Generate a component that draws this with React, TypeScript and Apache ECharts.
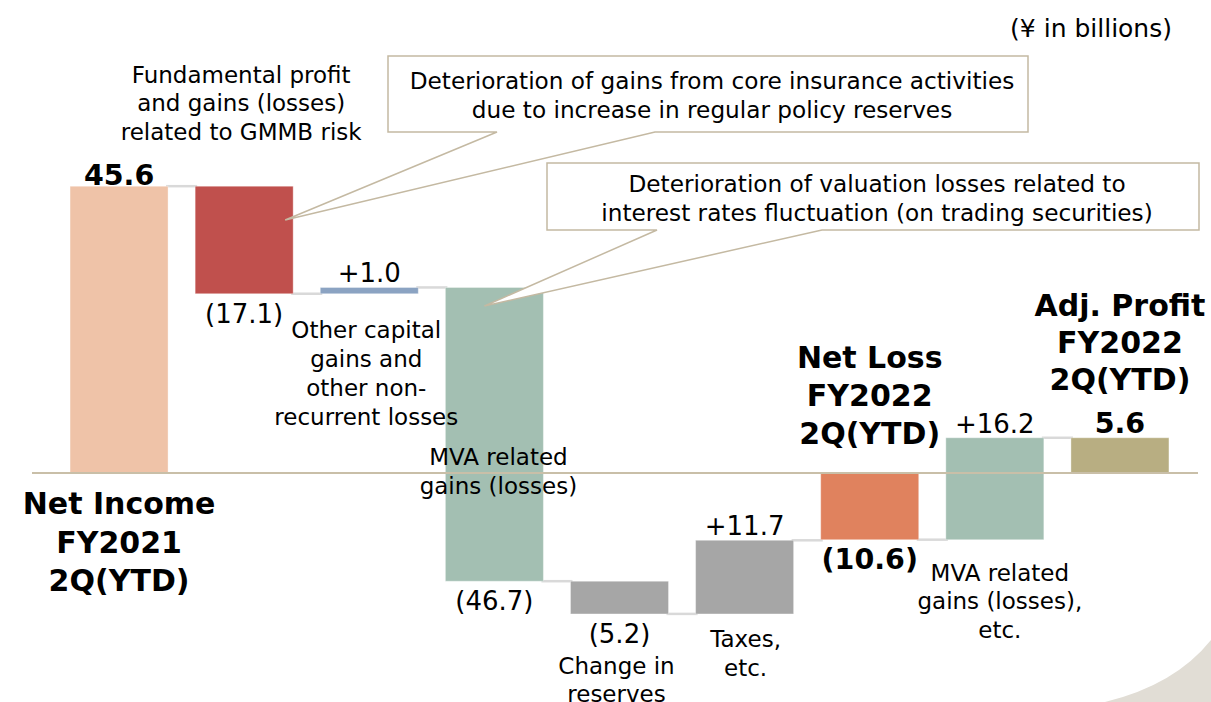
import React, { useEffect, useRef } from 'react';
import * as echarts from 'echarts';

// ---------- data ----------
const categories = [
  'Net Income FY2021 2Q(YTD)',
  'Fundamental profit and gains (losses) related to GMMB risk',
  'Other capital gains and other non-recurrent losses',
  'MVA related gains (losses)',
  'Change in reserves',
  'Taxes, etc.',
  'Net Loss FY2022 2Q(YTD)',
  'MVA related gains (losses), etc.',
  'Adj. Profit FY2022 2Q(YTD)',
];
const values = [45.6, -17.1, 1.0, -46.7, -5.2, 11.7, -10.6, 16.2, 5.6];
const isTotal = [true, false, false, false, false, false, true, false, true];
const valueLabels = ['45.6', '(17.1)', '+1.0', '(46.7)', '(5.2)', '+11.7', '(10.6)', '+16.2', '5.6'];
const unitLabel = '(¥ in billions)';

const categoryTexts = [
  'Net Income\nFY2021\n2Q(YTD)',
  'Fundamental profit\nand gains (losses)\nrelated to GMMB risk',
  'Other capital\ngains and\nother non-\nrecurrent losses',
  'MVA related\ngains (losses)',
  'Change in\nreserves',
  'Taxes,\netc.',
  'Net Loss\nFY2022\n2Q(YTD)',
  'MVA related\ngains (losses),\netc.',
  'Adj. Profit\nFY2022\n2Q(YTD)',
];
const calloutTexts = [
  'Deterioration of gains from core insurance activities\ndue to increase in regular policy reserves',
  'Deterioration of valuation losses related to\ninterest rates fluctuation (on trading securities)',
];

// ---------- styles / layout ----------
const barColors = ['#EFC3A8', '#C0504D', '#8BA3C2', '#A3BFB2', '#A6A6A6', '#A6A6A6', '#E0825E', '#A3BFB2', '#B8AE82'];
const FONT = '"DejaVu Sans", Verdana, sans-serif';

// annotation layout (pixel offsets relative to the category centre, block centre y)
const annotationLayout = [
  { dx: 0, cy: 542, lh: 38.5, bold: true },
  { dx: -3, cy: 103, lh: 28.5, bold: false },
  { dx: -3, cy: 373, lh: 29, bold: false },
  { dx: 4, cy: 471, lh: 29, bold: false },
  { dx: -3, cy: 680, lh: 28.5, bold: false },
  { dx: 1, cy: 653, lh: 29, bold: false },
  { dx: 0, cy: 395, lh: 38, bold: true },
  { dx: 5, cy: 601, lh: 28.5, bold: false },
  { dx: 0, cy: 342, lh: 37, bold: true },
];
const calloutLayout = [
  { box: [388, 56, 1028, 132], base: [497, 655], tipCat: 1, tipDx: 41, tipY: 220 },
  { box: [547, 163, 1199, 230], base: [657, 822], tipCat: 3, tipDx: -10, tipY: 306 },
];

const SWOOSH_D = 'M1105 702 Q1175 685 1211 640 L1211 702 Z';
let swooshRegistered = false;
function ensureSwoosh() {
  if (swooshRegistered) return;
  echarts.graphic.registerShape('swoosh', echarts.graphic.extendPath(SWOOSH_D, {}) as any);
  swooshRegistered = true;
}

// build waterfall ranges
const bars: [number, number, number][] = [];
{
  let running = 0;
  values.forEach((v, i) => {
    let start: number;
    let end: number;
    if (isTotal[i]) {
      start = 0;
      end = v;
    } else {
      start = running;
      end = running + v;
    }
    running = end;
    bars.push([i, start, end]);
  });
}
const connectors = bars.slice(0, -1).map(([i, , end]) => [i, end]);

const BAR_RATIO = 98 / 125.1;

export default function App() {
  const ref = useRef<HTMLDivElement>(null);
  useEffect(() => {
    if (!ref.current) return;
    ensureSwoosh();
    const chart = echarts.init(ref.current, null, { renderer: 'svg' });
    chart.setOption({
      animation: false,
      backgroundColor: '#ffffff',
      grid: { left: 56.5, top: 1.25, width: 1126, height: 691.9 },
      xAxis: { type: 'category', data: categories, show: false, boundaryGap: true },
      yAxis: { type: 'value', min: -35, max: 75, show: false },
      series: [
        {
          type: 'custom',
          name: 'connectors',
          z: 1,
          data: connectors,
          renderItem: (params: any, api: any) => {
            const i = api.value(0);
            const lvl = api.value(1);
            const w = api.size([1, 0])[0] * BAR_RATIO;
            const a = api.coord([i, lvl]);
            const b = api.coord([i + 1, lvl]);
            return {
              type: 'line',
              shape: { x1: a[0] + w / 2 - 2, y1: a[1], x2: b[0] - w / 2 + 2, y2: a[1] },
              style: { stroke: '#D9D9D9', lineWidth: 2.5 },
            };
          },
        },
        {
          type: 'custom',
          name: 'bars',
          z: 2,
          data: bars,
          renderItem: (params: any, api: any) => {
            const i = api.value(0);
            const s = api.coord([i, api.value(1)]);
            const e = api.coord([i, api.value(2)]);
            const w = api.size([1, 0])[0] * BAR_RATIO;
            return {
              type: 'rect',
              shape: { x: s[0] - w / 2, y: Math.min(s[1], e[1]), width: w, height: Math.abs(s[1] - e[1]) },
              style: { fill: barColors[i], stroke: 'rgba(255,255,255,0.35)', lineWidth: 1 },
            };
          },
        },
        {
          type: 'custom',
          name: 'labels',
          z: 5,
          data: bars,
          renderItem: (params: any, api: any) => {
            const i = api.value(0);
            const start = api.value(1);
            const end = api.value(2);
            const p = api.coord([i, end]);
            const up = end >= start;
            const bold = isTotal[i];
            return {
              type: 'text',
              x: p[0],
              y: up ? p[1] - (bold && i === 0 ? 11 : 14) : p[1] + 20,
              style: {
                text: valueLabels[i],
                fill: '#000000',
                fontFamily: FONT,
                fontSize: bold ? 28.5 : 26,
                fontWeight: bold ? 'bold' : 'normal',
                align: 'center',
                verticalAlign: 'middle',
                textAlign: 'center',
                textVerticalAlign: 'middle',
              },
            };
          },
        },
      ],
    });

    const px = (i: number, v: number) => chart.convertToPixel({ gridIndex: 0 }, [i, v]) as number[];
    const zeroY = px(0, 0)[1];
    const graphic: any[] = [];

    graphic.push({
      type: 'swoosh',
      x: 0,
      y: 0,
      z: 0,
      style: { fill: '#E1DDD5' },
    });

    graphic.push({
      type: 'line',
      z: 10,
      shape: { x1: 32, y1: zeroY, x2: 1198, y2: zeroY },
      style: { stroke: '#C9BFA8', lineWidth: 2 },
    });

    categoryTexts.forEach((t, i) => {
      const L = annotationLayout[i];
      const cx = px(i, 0)[0] + L.dx;
      graphic.push({
        type: 'text',
        z: 20,
        x: cx,
        y: L.cy,
        style: {
          text: t,
          fill: '#000000',
          fontFamily: FONT,
          fontSize: L.bold ? 30 : 23,
          fontWeight: L.bold ? 'bold' : 'normal',
          lineHeight: L.lh,
          align: 'center',
          verticalAlign: 'middle',
          textAlign: 'center',
          textVerticalAlign: 'middle',
        },
      });
    });

    calloutTexts.forEach((t, k) => {
      const C = calloutLayout[k];
      const [x1, y1, x2, y2] = C.box;
      const tip = px(C.tipCat, 0)[0] + C.tipDx;
      graphic.push({
        type: 'polygon',
        z: 15,
        shape: {
          points: [
            [x1, y1],
            [x2, y1],
            [x2, y2],
            [C.base[1], y2],
            [tip, C.tipY],
            [C.base[0], y2],
            [x1, y2],
          ],
        },
        style: { fill: '#FFFFFF', stroke: '#C4B9A2', lineWidth: 1.5 },
      });
      graphic.push({
        type: 'text',
        z: 16,
        x: (x1 + x2) / 2 + 4,
        y: (y1 + y2) / 2 + 1,
        style: {
          text: t,
          fill: '#000000',
          fontFamily: FONT,
          fontSize: 23.2,
          lineHeight: 29,
          align: 'center',
          verticalAlign: 'middle',
          textAlign: 'center',
          textVerticalAlign: 'middle',
        },
      });
    });

    graphic.push({
      type: 'text',
      z: 20,
      x: 1172,
      y: 28,
      style: {
        text: unitLabel,
        fill: '#000000',
        fontFamily: FONT,
        fontSize: 25,
        align: 'right',
        verticalAlign: 'middle',
        textAlign: 'right',
        textVerticalAlign: 'middle',
      },
    });

    chart.setOption({ graphic });
    return () => chart.dispose();
  }, []);
  return (
    <div
      ref={ref}
      style={{ position: 'fixed', left: 0, top: 0, width: 1211, height: 702, background: '#ffffff' }}
    />
  );
}
